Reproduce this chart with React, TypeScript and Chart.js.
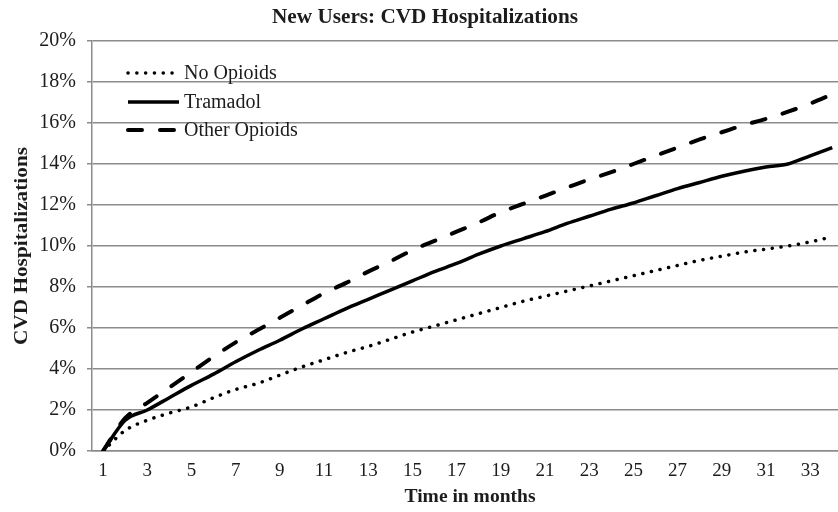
import React, { useEffect, useRef } from "react";
import { Chart, registerables } from "chart.js";

Chart.register(...registerables);

const months = [1, 2, 3, 4, 5, 6, 7, 8, 9, 10, 11, 12, 13, 14, 15, 16, 17, 18, 19, 20, 21, 22, 23, 24, 25, 26, 27, 28, 29, 30, 31, 32, 33, 34];
const noOpioids = [0, 1.0, 1.5, 1.85, 2.15, 2.6, 3.0, 3.3, 3.7, 4.1, 4.45, 4.8, 5.1, 5.45, 5.8, 6.1, 6.4, 6.7, 7.0, 7.3, 7.55, 7.8, 8.05, 8.3, 8.55, 8.8, 9.05, 9.3, 9.5, 9.7, 9.85, 10.0, 10.2, 10.45];
const tramadol = [0, 1.5, 2.0, 2.6, 3.2, 3.75, 4.35, 4.9, 5.4, 5.95, 6.45, 6.95, 7.4, 7.85, 8.3, 8.75, 9.15, 9.6, 10.0, 10.35, 10.7, 11.1, 11.45, 11.8, 12.1, 12.45, 12.8, 13.1, 13.4, 13.65, 13.85, 14.0, 14.4, 14.8];
const otherOpioids = [0, 1.6, 2.35, 3.1, 3.85, 4.6, 5.3, 5.9, 6.5, 7.1, 7.7, 8.2, 8.75, 9.25, 9.8, 10.25, 10.7, 11.15, 11.65, 12.05, 12.45, 12.85, 13.25, 13.6, 14.0, 14.4, 14.8, 15.2, 15.55, 15.9, 16.2, 16.55, 16.95, 17.4];
const xTickValues = [1, 3, 5, 7, 9, 11, 13, 15, 17, 19, 21, 23, 25, 27, 29, 31, 33];
const seriesNames = ["No Opioids", "Tramadol", "Other Opioids"];
const chartTitle = "New Users: CVD Hospitalizations";
const xTitle = "Time in months";
const yTitle = "CVD Hospitalizations";

const SERIF = '"Liberation Serif", "Times New Roman", serif';
const TEXT = "#1c1c1c";
const GRID = "#8c8c8c";

function drawScaledText(ctx: CanvasRenderingContext2D, text: string, font: string, cx: number, cy: number, targetWidth: number, rotate: boolean) {
  ctx.save();
  ctx.font = font;
  ctx.fillStyle = TEXT;
  ctx.textAlign = "center";
  ctx.textBaseline = "middle";
  const w = ctx.measureText(text).width;
  const s = targetWidth / w;
  ctx.translate(cx, cy);
  if (rotate) ctx.rotate(-Math.PI / 2);
  ctx.scale(s, 1);
  ctx.fillText(text, 0, 0);
  ctx.restore();
}

const decorPlugin = {
  id: "decor",
  afterDraw(chart: any) {
    const ctx: CanvasRenderingContext2D = chart.ctx;
    drawScaledText(ctx, chartTitle, `bold 21px ${SERIF}`, 425, 18, 306, false);
    drawScaledText(ctx, xTitle, `bold 19px ${SERIF}`, 470, 497, 131, false);
    drawScaledText(ctx, yTitle, `bold 19px ${SERIF}`, 22, 246, 198, true);
    // legend
    const rows = [73, 102, 130];
    chart.data.datasets.forEach((ds: any, i: number) => {
      const y = rows[i];
      ctx.save();
      ctx.strokeStyle = ds.borderColor;
      ctx.lineWidth = ds.borderWidth;
      ctx.lineCap = ds.borderCapStyle || "butt";
      ctx.setLineDash(ds.borderDash || []);
      ctx.beginPath();
      ctx.moveTo(128, y);
      ctx.lineTo(179, y);
      ctx.stroke();
      ctx.setLineDash([]);
      ctx.font = `20px ${SERIF}`;
      ctx.fillStyle = TEXT;
      ctx.textAlign = "left";
      ctx.textBaseline = "middle";
      ctx.fillText(ds.label, 184, y + 1);
      ctx.restore();
    });
  },
};

export default function App() {
  const ref = useRef<HTMLCanvasElement | null>(null);
  useEffect(() => {
    if (!ref.current) return;
    const mk = (arr: number[]) => months.map((m, i) => ({ x: m, y: arr[i] }));
    const chart = new Chart(ref.current, {
      type: "line",
      data: {
        datasets: [
          { label: seriesNames[0], data: mk(noOpioids), borderColor: "#000", borderWidth: 3.5, borderDash: [0.1, 8.7], borderCapStyle: "round", pointRadius: 0, cubicInterpolationMode: "monotone" },
          { label: seriesNames[1], data: mk(tramadol), borderColor: "#000", borderWidth: 3.5, pointRadius: 0, cubicInterpolationMode: "monotone" },
          { label: seriesNames[2], data: mk(otherOpioids), borderColor: "#000", borderWidth: 4, borderDash: [14, 18], borderCapStyle: "round", pointRadius: 0, cubicInterpolationMode: "monotone" },
        ] as any,
      },
      options: {
        animation: false,
        responsive: false,
        maintainAspectRatio: false,
        layout: { padding: { top: 41, left: 0, right: 0, bottom: 0 } },
        plugins: { legend: { display: false }, title: { display: false }, tooltip: { enabled: false } },
        scales: {
          x: {
            type: "linear",
            min: 0.5,
            max: 34.26,
            afterBuildTicks: (scale: any) => {
              scale.ticks = xTickValues.map((v) => ({ value: v }));
            },
            afterFit: (scale: any) => {
              scale.height = 61;
            },
            grid: { display: false, drawTicks: false },
            border: { display: true, color: GRID, width: 1.5 },
            ticks: { font: { family: SERIF, size: 19 }, color: TEXT, padding: 9, maxRotation: 0, autoSkip: false },
          },
          y: {
            min: 0,
            max: 20,
            afterFit: (scale: any) => {
              scale.width = 92;
            },
            grid: { color: GRID, lineWidth: 1.5, tickLength: 5, drawTicks: true },
            border: { display: true, color: GRID, width: 1.5 },
            ticks: { stepSize: 2, font: { family: SERIF, size: 20 }, color: TEXT, padding: 11, callback: (v: any) => v + "%" },
          },
        },
      } as any,
      plugins: [decorPlugin],
    });
    return () => chart.destroy();
  }, []);
  return (
    <div style={{ position: "absolute", left: 0, top: 0, width: 838, height: 512, background: "#fff" }}>
      <canvas ref={ref} width={838} height={512} style={{ display: "block" }} />
    </div>
  );
}
